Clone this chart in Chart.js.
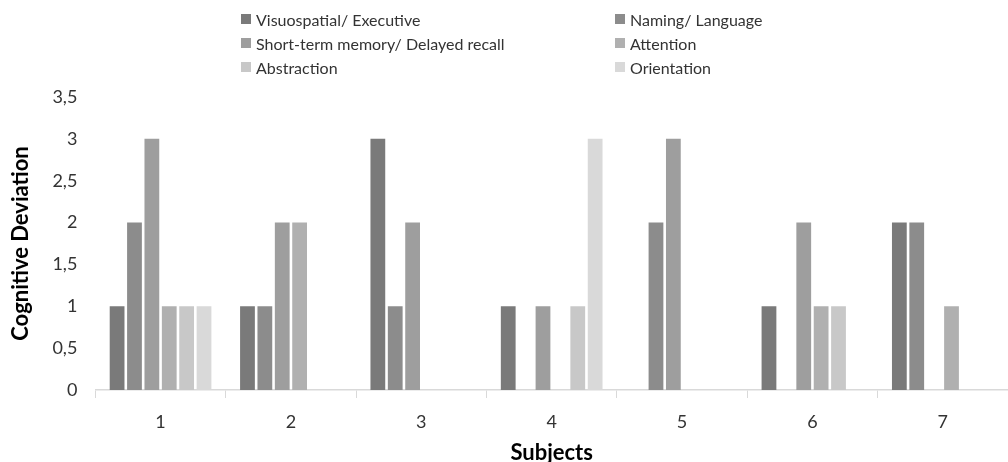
<!DOCTYPE html>
<html>
<head>
<meta charset="utf-8">
<script src="https://cdn.jsdelivr.net/npm/chart.js@4/dist/chart.umd.min.js"></script>
<style>
  html, body { margin: 0; padding: 0; background: #fff; }
  #wrap { position: relative; width: 1008px; height: 462px; }
  #legend {
    position: absolute; left: 241px; top: 8px; width: 760px;
    display: grid; grid-template-columns: 374px 380px; row-gap: 2px;
    font-family: Lato, sans-serif; font-size: 16px; color: #333;
  }
  #legend div { display: flex; align-items: center; height: 22px; }
  #legend span.box { width: 10px; height: 10px; margin-right: 5px; display: inline-block; }
</style>
</head>
<body>
<div id="wrap">
  <canvas id="chart" width="1008" height="462"></canvas>
  <div id="legend"></div>
</div>
<script>
const subjects = ['1', '2', '3', '4', '5', '6', '7'];
const seriesNames = [
  'Visuospatial/ Executive',
  'Naming/ Language',
  'Short-term memory/ Delayed recall',
  'Attention',
  'Abstraction',
  'Orientation'
];
const visuospatial = [1, 1, 3, 1, 0, 1, 2];
const naming = [2, 1, 1, 0, 2, 0, 2];
const shortTermMemory = [3, 2, 2, 1, 3, 2, 0];
const attention = [1, 2, 0, 0, 0, 1, 1];
const abstraction = [1, 0, 0, 1, 0, 1, 0];
const orientation = [1, 0, 0, 3, 0, 0, 0];
const yTicks = [0, 0.5, 1, 1.5, 2, 2.5, 3, 3.5];

const seriesValues = [visuospatial, naming, shortTermMemory, attention, abstraction, orientation];
const colors = ['#7a7a7a', '#8c8c8c', '#9e9e9e', '#b0b0b0', '#c8c8c8', '#d9d9d9'];

Chart.defaults.font.family = 'Lato, sans-serif';

const chart = new Chart(document.getElementById('chart'), {
  type: 'bar',
  data: {
    labels: subjects,
    datasets: seriesNames.map((name, i) => ({
      label: name,
      data: seriesValues[i],
      backgroundColor: colors[i],
      borderWidth: 0,
      categoryPercentage: 0.8,
      barPercentage: 0.85,
    })),
  },
  options: {
    responsive: false,
    animation: false,
    layout: { padding: { top: 97, right: 0, left: 8, bottom: 0 } },
    plugins: { legend: { display: false }, tooltip: { enabled: false } },
    scales: {
      x: {
        grid: { display: true, drawOnChartArea: false, color: '#d9d9d9', tickLength: 8, offset: true },
        border: { color: '#d9d9d9', width: 1.5 },
        ticks: { color: '#333', font: { size: 18 }, padding: 13 },
        title: { display: true, text: 'Subjects', color: '#000', font: { size: 22, weight: 'bold' }, padding: { top: -6, bottom: -4 } },
      },
      y: {
        min: 0,
        max: 3.5,
        afterBuildTicks: (axis) => { axis.ticks = yTicks.map((v) => ({ value: v })); },
        grid: { display: false },
        border: { display: false },
        ticks: {
          color: '#333', font: { size: 18 }, padding: 10,
          callback: (v) => String(v).replace('.', ','),
        },
        title: { display: true, text: 'Cognitive Deviation', color: '#000', font: { size: 22, weight: 'bold' }, padding: { top: 0, bottom: 8 } },
      },
    },
  },
});

// two-column legend, row-major like the original
const legend = document.getElementById('legend');
chart.data.datasets.forEach((ds) => {
  const item = document.createElement('div');
  item.innerHTML = '<span class="box" style="background:' + ds.backgroundColor + '"></span>' + ds.label;
  legend.appendChild(item);
});
</script>
</body>
</html>
